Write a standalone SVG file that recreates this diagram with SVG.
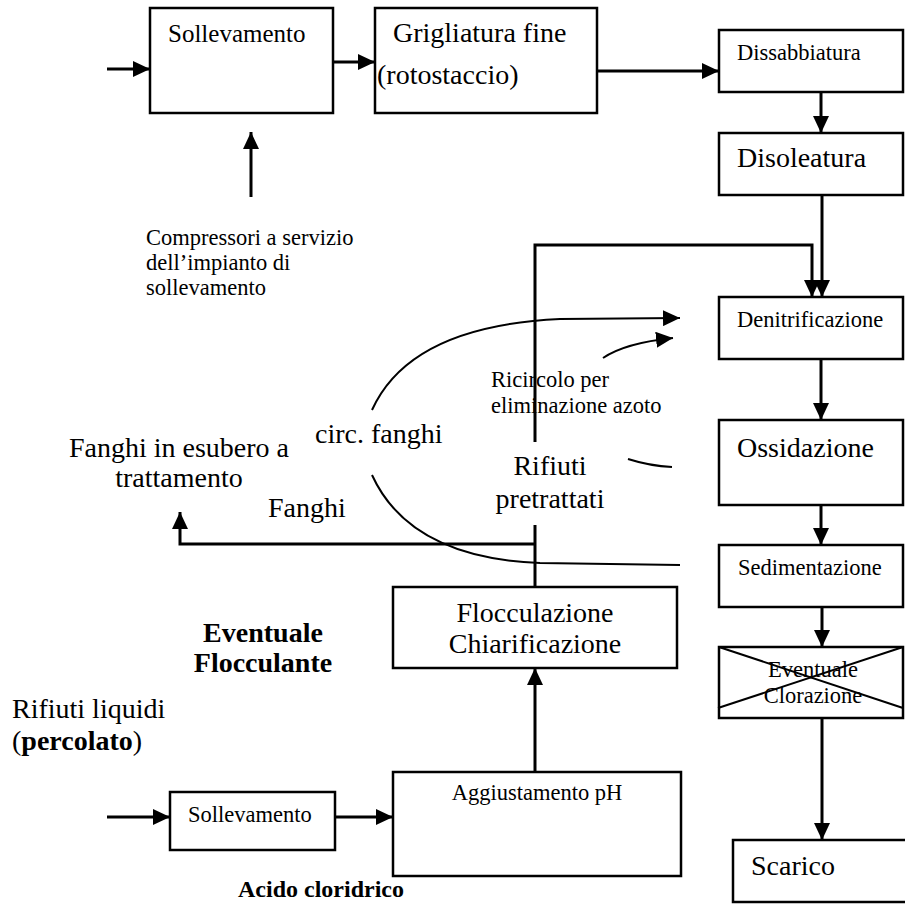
<svg xmlns="http://www.w3.org/2000/svg" width="905" height="910" viewBox="0 0 905 910">
<style>
.box{fill:#fff;stroke:#000;stroke-width:2.5}
.ln{fill:none;stroke:#000;stroke-width:3}
.thin{fill:none;stroke:#000;stroke-width:2}
text{font-family:"Liberation Serif","Times New Roman",serif;fill:#000}
.s{font-size:22.5px}
.m{font-size:25px}
.l{font-size:28px}
.b{font-weight:bold}
</style>
<defs>
<marker id="ah" markerUnits="userSpaceOnUse" markerWidth="18" markerHeight="16" refX="17" refY="8" orient="auto">
<path d="M0,0 L17,8 L0,16 z" fill="#000"/>
</marker>
</defs>
<rect width="905" height="910" fill="#fff"/>

<g id="connectors">
<line class="ln" x1="107" y1="69" x2="150" y2="69" marker-end="url(#ah)"/>
<line class="ln" x1="333" y1="62" x2="375" y2="62" marker-end="url(#ah)"/>
<line class="ln" x1="597" y1="71" x2="719" y2="71" marker-end="url(#ah)"/>
<line class="ln" x1="821" y1="92" x2="821" y2="133" marker-end="url(#ah)"/>
<line class="ln" x1="251" y1="197" x2="251" y2="132" marker-end="url(#ah)"/>
<line class="ln" x1="822" y1="195" x2="822" y2="297" marker-end="url(#ah)"/>
<polyline class="ln" points="535,442 535,245 812,245 812,297" marker-end="url(#ah)"/>
<line class="ln" x1="821" y1="359" x2="821" y2="420" marker-end="url(#ah)"/>
<line class="ln" x1="821" y1="505" x2="821" y2="545" marker-end="url(#ah)"/>
<line class="ln" x1="822" y1="607" x2="822" y2="647" marker-end="url(#ah)"/>
<line class="ln" x1="822" y1="718" x2="822" y2="840" marker-end="url(#ah)"/>
<path class="thin" d="M372,410 Q410,326 560,319 L680,318" marker-end="url(#ah)"/>
<path class="thin" d="M372,475 Q410,558 540,563 L680,565"/>
<path class="thin" d="M603,358 Q625,343 673,338" marker-end="url(#ah)"/>
<path class="thin" d="M628,459 Q650,466 672,467"/>
<polyline class="ln" points="535,587 535,525"/>
<polyline class="ln" points="535,544 180,544 180,512" marker-end="url(#ah)"/>
<line class="ln" x1="535" y1="772" x2="535" y2="668" marker-end="url(#ah)"/>
<line class="ln" x1="107" y1="817" x2="170" y2="817" marker-end="url(#ah)"/>
<line class="ln" x1="335" y1="817" x2="393" y2="817" marker-end="url(#ah)"/>
</g>

<g id="sollevamento1">
<rect class="box" x="150" y="8" width="183" height="105"/>
<text class="m" x="168" y="42">Sollevamento</text>
</g>
<g id="grigliatura">
<rect class="box" x="375" y="8" width="222" height="105"/>
<text class="l" x="393" y="42">Grigliatura fine</text>
<text class="l" x="377" y="84">(rotostaccio)</text>
</g>
<g id="dissabbiatura">
<rect class="box" x="719" y="30" width="184" height="62"/>
<text class="s" x="737" y="60">Dissabbiatura</text>
</g>
<g id="disoleatura">
<rect class="box" x="719" y="133" width="184" height="62"/>
<text class="l" x="737" y="167">Disoleatura</text>
</g>
<g id="compressori">
<text class="s" x="146" y="245">Compressori a servizio</text>
<text class="s" x="146" y="270">dell’impianto di</text>
<text class="s" x="146" y="295">sollevamento</text>
</g>
<g id="denitrificazione">
<rect class="box" x="719" y="297" width="184" height="62"/>
<text class="s" x="737" y="327">Denitrificazione</text>
</g>
<g id="ossidazione">
<rect class="box" x="719" y="420" width="184" height="85"/>
<text class="l" x="737" y="457">Ossidazione</text>
</g>
<g id="sedimentazione">
<rect class="box" x="719" y="545" width="184" height="62"/>
<text class="s" x="738" y="575">Sedimentazione</text>
</g>
<g id="clorazione">
<rect class="box" x="719" y="647" width="184" height="71"/>
<text class="s" x="813" y="677" text-anchor="middle">Eventuale</text>
<text class="s" x="813" y="703" text-anchor="middle">Clorazione</text>
<line class="thin" x1="718" y1="708" x2="903" y2="647"/>
<line class="thin" x1="719" y1="647" x2="903" y2="708"/>
</g>
<g id="scarico">
<rect class="box" x="733" y="840" width="180" height="62"/>
<text class="l" x="751" y="875">Scarico</text>
</g>
<g id="ricircolo">
<text class="s" x="491" y="387">Ricircolo per</text>
<text class="s" x="491" y="413">eliminazione azoto</text>
</g>
<g id="circ-fanghi">
<text class="l" x="315" y="443">circ. fanghi</text>
</g>
<g id="rifiuti-pretrattati">
<text class="l" x="550" y="475" text-anchor="middle">Rifiuti</text>
<text class="l" x="550" y="508" text-anchor="middle">pretrattati</text>
</g>
<g id="fanghi-esubero">
<text class="l" x="179" y="457" text-anchor="middle">Fanghi in esubero a</text>
<text class="l" x="179" y="487" text-anchor="middle">trattamento</text>
</g>
<g id="fanghi">
<text class="l" x="268" y="517">Fanghi</text>
</g>
<g id="flocculante">
<text class="l b" x="263" y="642" text-anchor="middle">Eventuale</text>
<text class="l b" x="263" y="672" text-anchor="middle">Flocculante</text>
</g>
<g id="flocculazione">
<rect class="box" x="393" y="587" width="284" height="81"/>
<text class="l" x="535" y="622" text-anchor="middle">Flocculazione</text>
<text class="l" x="535" y="653" text-anchor="middle">Chiarificazione</text>
</g>
<g id="rifiuti-liquidi">
<text class="l" x="12" y="718">Rifiuti liquidi</text>
<text class="l" x="12" y="750">(<tspan class="b">percolato</tspan>)</text>
</g>
<g id="sollevamento2">
<rect class="box" x="170" y="792" width="165" height="58"/>
<text class="s" x="188" y="822">Sollevamento</text>
</g>
<g id="aggiustamento">
<rect class="box" x="393" y="772" width="288" height="104"/>
<text class="s" x="537" y="800" text-anchor="middle">Aggiustamento pH</text>
</g>
<g id="acido">
<text class="b" style="font-size:24px" x="238" y="897">Acido cloridrico</text>
</g>
</svg>
